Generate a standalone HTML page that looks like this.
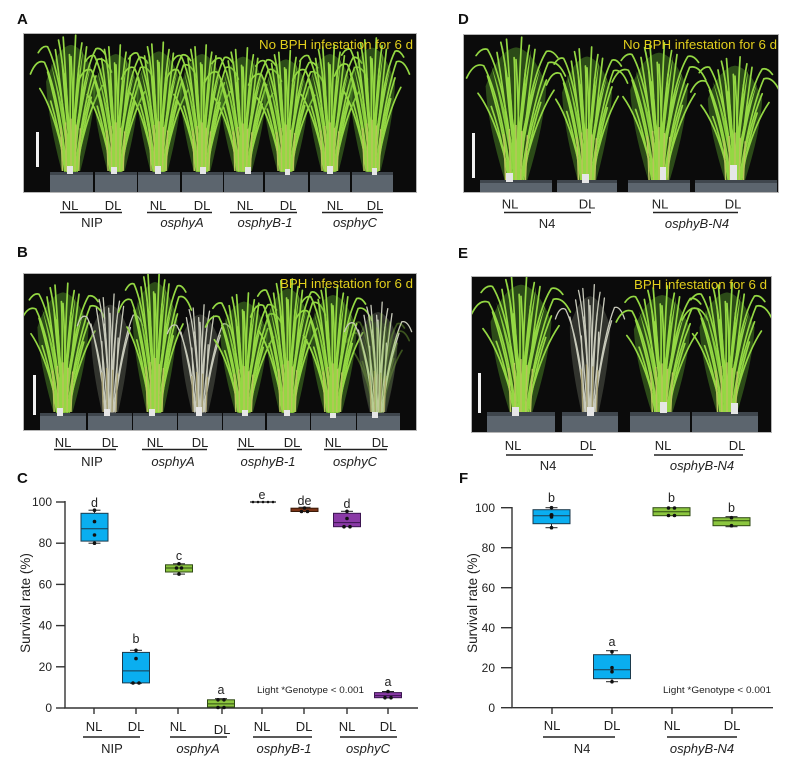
<!DOCTYPE html>
<html>
<head>
<meta charset="utf-8">
<style>
html,body{margin:0;padding:0;background:#fff;}
svg{display:block;}
text{font-family:"Liberation Sans",Arial,sans-serif;}
.b path{vector-effect:non-scaling-stroke;}
.lbl{font-size:13px;fill:#222;}
.it{font-style:italic;}
.pl{font-size:15px;font-weight:bold;fill:#111;}
.tk{font-size:12px;fill:#222;}
.yl{font-size:13.5px;fill:#222;}
.ltr{font-size:12.5px;fill:#222;}
.yel{font-size:13px;fill:#e2cf1d;}
</style>
</head>
<body>
<svg width="785" height="763" viewBox="0 0 785 763" xmlns="http://www.w3.org/2000/svg">
<defs>
  <g id="hp">
    <path d="M-12,0 Q-30,-55 -32,-92 Q-18,-128 0,-130 Q18,-128 32,-92 Q30,-55 12,0 Z" fill="#5aa52a" opacity="0.42"/>
    <path d="M-2,-20 Q-10,-80 -14,-132 Q-6,-80 3,-20Z" fill="#98dc48"/>
    <path d="M2,-20 Q10,-80 16,-128 Q6,-80 -2,-20Z" fill="#8fd440"/>
    <path d="M-4,-10 Q-14,-70 -26,-112 Q-10,-70 1,-10Z" fill="#86cc3c"/>
    <path d="M4,-10 Q14,-70 26,-110 Q10,-70 -1,-10Z" fill="#92d646"/>
    <g class="b" fill="none" stroke="#94d843" stroke-width="1.7" stroke-linecap="round">
      <path d="M-2,0 Q-4,-70 -10,-138"/>
      <path d="M1,0 Q2,-75 6,-140"/>
      <path d="M-4,0 Q-8,-60 -20,-125"/>
      <path d="M4,0 Q10,-60 20,-128"/>
      <path d="M-6,0 Q-14,-55 -30,-102"/>
      <path d="M6,0 Q14,-55 32,-98"/>
      <path d="M0,0 Q-6,-95 -16,-135"/>
      <path d="M0,0 Q6,-90 14,-132"/>
      <path d="M-3,0 Q-2,-60 -8,-100"/>
      <path d="M3,0 Q5,-60 10,-108"/>
      <path d="M-5,0 Q-16,-80 -34,-112 Q-44,-116 -52,-100"/>
      <path d="M5,0 Q18,-80 34,-115 Q44,-118 52,-102"/>
      <path d="M-1,0 Q-12,-100 -30,-128 Q-36,-130 -42,-122"/>
      <path d="M1,0 Q14,-100 32,-126 Q38,-128 44,-120"/>
      <path d="M-8,0 Q-14,-40 -26,-72"/>
      <path d="M8,0 Q14,-40 26,-76"/>
      <path d="M-2,0 Q0,-90 -2,-120"/>
      <path d="M2,0 Q4,-60 0,-118"/>
      <path d="M-6,0 Q-20,-60 -40,-85"/>
      <path d="M6,0 Q20,-60 40,-88"/>
    </g>
    <g class="b" fill="none" stroke="#b9c45c" stroke-width="1.4">
      <path d="M-11,0 L-13,-45"/><path d="M-6,0 L-7,-50"/><path d="M0,0 L0,-54"/>
      <path d="M5,0 L6,-48"/><path d="M10,0 L12,-44"/>
    </g>
  </g>
  <g id="dp">
    <path d="M-12,0 Q-28,-55 -28,-90 Q-16,-120 0,-122 Q16,-120 28,-90 Q28,-55 12,0 Z" fill="#6f7264" opacity="0.4"/>
    <g class="b" fill="none" stroke="#c8cabb" stroke-width="1.3" stroke-linecap="round">
      <path d="M-2,0 Q-4,-70 -10,-130"/>
      <path d="M1,0 Q2,-75 6,-134"/>
      <path d="M-4,0 Q-8,-60 -20,-118"/>
      <path d="M4,0 Q10,-60 20,-120"/>
      <path d="M-6,0 Q-14,-55 -28,-100"/>
      <path d="M6,0 Q14,-55 30,-96"/>
      <path d="M0,0 Q-6,-95 -16,-128"/>
      <path d="M0,0 Q6,-90 14,-126"/>
      <path d="M-3,0 Q-2,-60 -8,-100"/>
      <path d="M3,0 Q5,-60 10,-104"/>
      <path d="M-5,0 Q-16,-80 -34,-108 Q-42,-112 -48,-98"/>
      <path d="M5,0 Q18,-80 34,-110 Q42,-112 48,-98"/>
      <path d="M-2,0 Q0,-90 -2,-118"/>
      <path d="M2,0 Q4,-60 0,-112"/>
      <path d="M-8,0 Q-10,-40 -12,-80"/>
      <path d="M8,0 Q10,-40 12,-84"/>
    </g>
    <g class="b" fill="none" stroke="#a39b6e" stroke-width="1.3">
      <path d="M-10,0 L-12,-45"/><path d="M-4,0 L-5,-50"/><path d="M3,0 L4,-48"/><path d="M9,0 L11,-44"/>
    </g>
  </g>
  <clipPath id="cA"><rect x="23" y="33" width="394" height="160"/></clipPath>
  <clipPath id="cB"><rect x="23" y="273" width="394" height="158"/></clipPath>
  <clipPath id="cD"><rect x="463" y="34" width="316" height="159"/></clipPath>
  <clipPath id="cE"><rect x="471" y="276" width="301" height="157"/></clipPath>
</defs>

<!-- Panel labels -->
<text class="pl" x="17" y="24">A</text>
<text class="pl" x="17" y="257">B</text>
<text class="pl" x="17" y="483">C</text>
<text class="pl" x="458" y="24">D</text>
<text class="pl" x="458" y="258">E</text>
<text class="pl" x="459" y="483">F</text>

<!-- ===== Photo A ===== -->
<g clip-path="url(#cA)">
  <rect x="23" y="33" width="394" height="160" fill="#0b0b0b"/>
  <g>
    <use href="#hp" transform="translate(71,171) scale(0.78,0.97)"/>
    <use href="#hp" transform="translate(116,171) scale(0.72,0.9)"/>
    <use href="#hp" transform="translate(159,171) scale(0.72,0.92)"/>
    <use href="#hp" transform="translate(202,171) scale(0.7,0.9)"/>
    <use href="#hp" transform="translate(243,171) scale(0.74,0.88)"/>
    <use href="#hp" transform="translate(286,171) scale(0.72,0.86)"/>
    <use href="#hp" transform="translate(330,171) scale(0.72,0.9)"/>
    <use href="#hp" transform="translate(372,171) scale(0.72,0.95)"/>
  </g>
  <g fill="#5c656e">
    <rect x="50" y="172" width="43" height="21"/><rect x="95" y="172" width="42" height="21"/>
    <rect x="138" y="172" width="42" height="21"/><rect x="182" y="172" width="41" height="21"/>
    <rect x="224" y="172" width="39" height="21"/><rect x="265" y="172" width="43" height="21"/>
    <rect x="310" y="172" width="40" height="21"/><rect x="352" y="172" width="41" height="21"/>
  </g>
  <g fill="#3f464d">
    <rect x="50" y="172" width="43" height="3"/><rect x="95" y="172" width="42" height="3"/>
    <rect x="138" y="172" width="42" height="3"/><rect x="182" y="172" width="41" height="3"/>
    <rect x="224" y="172" width="39" height="3"/><rect x="265" y="172" width="43" height="3"/>
    <rect x="310" y="172" width="40" height="3"/><rect x="352" y="172" width="41" height="3"/>
  </g>
  <g fill="#e6e6e6">
    <rect x="67" y="166" width="6" height="8"/><rect x="111" y="167" width="6" height="7"/>
    <rect x="155" y="166" width="6" height="8"/><rect x="200" y="167" width="6" height="7"/>
    <rect x="245" y="167" width="6" height="7"/><rect x="285" y="169" width="5" height="6"/>
    <rect x="327" y="166" width="6" height="8"/><rect x="372" y="168" width="5" height="7"/>
  </g>
  <rect x="36" y="132" width="3" height="35" fill="#f2f2f2"/>
  <text class="yel" x="413" y="49" text-anchor="end" textLength="154" lengthAdjust="spacingAndGlyphs">No BPH infestation for 6 d</text>
</g>
<rect x="23.5" y="33.5" width="393" height="159" fill="none" stroke="#b5b5b5" stroke-width="1"/>

<!-- labels A -->
<g class="lbl" text-anchor="middle">
  <text x="70" y="210">NL</text><text x="113" y="210">DL</text>
  <text x="158" y="210">NL</text><text x="202" y="210">DL</text>
  <text x="245" y="210">NL</text><text x="288" y="210">DL</text>
  <text x="335" y="210">NL</text><text x="375" y="210">DL</text>
  <text x="92" y="227">NIP</text>
  <text class="it" x="182" y="227">osphyA</text>
  <text class="it" x="265" y="227">osphyB-1</text>
  <text class="it" x="355" y="227">osphyC</text>
</g>
<g stroke="#222" stroke-width="1.4">
  <line x1="60" y1="212.5" x2="122" y2="212.5"/><line x1="147" y1="212.5" x2="212" y2="212.5"/>
  <line x1="230" y1="212.5" x2="297" y2="212.5"/><line x1="322" y1="212.5" x2="383" y2="212.5"/>
</g>

<!-- ===== Photo B ===== -->
<g clip-path="url(#cB)">
  <rect x="23" y="273" width="394" height="158" fill="#0b0b0b"/>
  <use href="#hp" transform="translate(63,412) scale(0.8,0.92)"/>
  <use href="#dp" transform="translate(110,412) scale(0.68,0.88)"/>
  <use href="#hp" transform="translate(155,412) scale(0.7,1.0)"/>
  <use href="#dp" transform="translate(200,412) scale(0.68,0.8)"/>
  <use href="#hp" transform="translate(244,412) scale(0.74,0.85)"/>
  <use href="#hp" transform="translate(288,412) scale(0.72,0.95)"/>
  <use href="#hp" transform="translate(333,412) scale(0.74,0.9)"/>
  <use href="#dp" transform="translate(378,412) scale(0.7,0.82)"/>
  <use href="#hp" transform="translate(378,412) scale(0.6,0.7)" opacity="0.35"/>
  <g fill="#5c656e">
    <rect x="40" y="413" width="46" height="18"/><rect x="88" y="413" width="44" height="18"/>
    <rect x="133" y="413" width="44" height="18"/><rect x="178" y="413" width="44" height="18"/>
    <rect x="223" y="413" width="42" height="18"/><rect x="267" y="413" width="43" height="18"/>
    <rect x="311" y="413" width="45" height="18"/><rect x="357" y="413" width="43" height="18"/>
  </g>
  <g fill="#3f464d">
    <rect x="40" y="413" width="46" height="3"/><rect x="88" y="413" width="44" height="3"/>
    <rect x="133" y="413" width="44" height="3"/><rect x="178" y="413" width="44" height="3"/>
    <rect x="223" y="413" width="42" height="3"/><rect x="267" y="413" width="43" height="3"/>
    <rect x="311" y="413" width="45" height="3"/><rect x="357" y="413" width="43" height="3"/>
  </g>
  <g fill="#e6e6e6">
    <rect x="57" y="408" width="6" height="8"/><rect x="104" y="409" width="6" height="7"/>
    <rect x="149" y="409" width="6" height="7"/><rect x="196" y="407" width="6" height="9"/>
    <rect x="242" y="410" width="6" height="6"/><rect x="284" y="410" width="6" height="6"/>
    <rect x="330" y="413" width="6" height="5"/><rect x="372" y="412" width="6" height="6"/>
  </g>
  <rect x="33" y="375" width="3" height="40" fill="#f2f2f2"/>
  <text class="yel" x="413" y="288" text-anchor="end" textLength="133" lengthAdjust="spacingAndGlyphs">BPH infestation for 6 d</text>
</g>
<rect x="23.5" y="273.5" width="393" height="157" fill="none" stroke="#b5b5b5" stroke-width="1"/>

<g class="lbl" text-anchor="middle">
  <text x="63" y="447">NL</text><text x="110" y="447">DL</text>
  <text x="155" y="447">NL</text><text x="200" y="447">DL</text>
  <text x="246" y="447">NL</text><text x="292" y="447">DL</text>
  <text x="333" y="447">NL</text><text x="380" y="447">DL</text>
  <text x="92" y="466">NIP</text>
  <text class="it" x="173" y="466">osphyA</text>
  <text class="it" x="268" y="466">osphyB-1</text>
  <text class="it" x="355" y="466">osphyC</text>
</g>
<g stroke="#222" stroke-width="1.4">
  <line x1="54" y1="449.5" x2="116" y2="449.5"/><line x1="142" y1="449.5" x2="207" y2="449.5"/>
  <line x1="237" y1="449.5" x2="302" y2="449.5"/><line x1="324" y1="449.5" x2="387" y2="449.5"/>
</g>

<!-- ===== Photo D ===== -->
<g clip-path="url(#cD)">
  <rect x="463" y="34" width="316" height="159" fill="#0b0b0b"/>
  <use href="#hp" transform="translate(516,180) scale(0.95,1.02)"/>
  <use href="#hp" transform="translate(587,180) scale(0.78,0.95)"/>
  <use href="#hp" transform="translate(659,180) scale(0.9,0.98)"/>
  <use href="#hp" transform="translate(735,180) scale(0.85,0.88)"/>
  <g fill="#5c656e">
    <rect x="480" y="180" width="72" height="13"/><rect x="557" y="180" width="60" height="13"/>
    <rect x="628" y="180" width="62" height="13"/><rect x="695" y="180" width="82" height="13"/>
  </g>
  <g fill="#3f464d">
    <rect x="480" y="180" width="72" height="3"/><rect x="557" y="180" width="60" height="3"/>
    <rect x="628" y="180" width="62" height="3"/><rect x="695" y="180" width="82" height="3"/>
  </g>
  <g fill="#e6e6e6">
    <rect x="506" y="173" width="7" height="9"/><rect x="582" y="174" width="7" height="9"/>
    <rect x="660" y="167" width="6" height="13"/><rect x="730" y="165" width="7" height="15"/>
  </g>
  <rect x="472" y="133" width="3" height="45" fill="#f2f2f2"/>
  <text class="yel" x="777" y="49" text-anchor="end" textLength="154" lengthAdjust="spacingAndGlyphs">No BPH infestation for 6 d</text>
</g>
<rect x="463.5" y="34.5" width="315" height="158" fill="none" stroke="#b5b5b5" stroke-width="1"/>

<g class="lbl" text-anchor="middle">
  <text x="510" y="208.5">NL</text><text x="587" y="208.5">DL</text>
  <text x="660" y="208.5">NL</text><text x="733" y="208.5">DL</text>
  <text x="547" y="228">N4</text>
  <text class="it" x="697" y="228">osphyB-N4</text>
</g>
<g stroke="#222" stroke-width="1.4">
  <line x1="504" y1="212.5" x2="591" y2="212.5"/><line x1="653" y1="212.5" x2="738" y2="212.5"/>
</g>

<!-- ===== Photo E ===== -->
<g clip-path="url(#cE)">
  <rect x="471" y="276" width="301" height="157" fill="#0b0b0b"/>
  <use href="#hp" transform="translate(521,412) scale(0.95,0.98)"/>
  <use href="#dp" transform="translate(590,412) scale(0.72,0.95)"/>
  <use href="#hp" transform="translate(662,412) scale(0.88,0.9)"/>
  <use href="#hp" transform="translate(727,412) scale(0.86,0.92)"/>
  <g fill="#5c656e">
    <rect x="487" y="412" width="68" height="21"/><rect x="562" y="412" width="56" height="21"/>
    <rect x="630" y="412" width="60" height="21"/><rect x="692" y="412" width="66" height="21"/>
  </g>
  <g fill="#3f464d">
    <rect x="487" y="412" width="68" height="4"/><rect x="562" y="412" width="56" height="4"/>
    <rect x="630" y="412" width="60" height="4"/><rect x="692" y="412" width="66" height="4"/>
  </g>
  <g fill="#e6e6e6">
    <rect x="512" y="407" width="7" height="9"/><rect x="587" y="407" width="7" height="9"/>
    <rect x="660" y="402" width="7" height="11"/><rect x="731" y="403" width="7" height="11"/>
  </g>
  <rect x="478" y="373" width="3" height="40" fill="#f2f2f2"/>
  <text class="yel" x="767" y="289" text-anchor="end" textLength="133" lengthAdjust="spacingAndGlyphs">BPH infestation for 6 d</text>
</g>
<rect x="471.5" y="276.5" width="300" height="156" fill="none" stroke="#b5b5b5" stroke-width="1"/>

<g class="lbl" text-anchor="middle">
  <text x="513" y="450">NL</text><text x="588" y="450">DL</text>
  <text x="663" y="450">NL</text><text x="737" y="450">DL</text>
  <text x="548" y="470">N4</text>
  <text class="it" x="702" y="470">osphyB-N4</text>
</g>
<g stroke="#222" stroke-width="1.4">
  <line x1="506" y1="455" x2="593" y2="455"/><line x1="654" y1="455" x2="743" y2="455"/>
</g>

<!-- ===== Chart C ===== -->
<g stroke="#333" stroke-width="1.4" fill="none">
  <line x1="65" y1="501" x2="65" y2="708"/>
  <line x1="64.3" y1="708" x2="418" y2="708"/>
  <line x1="56" y1="502" x2="65" y2="502"/>
  <line x1="56" y1="543.2" x2="65" y2="543.2"/>
  <line x1="56" y1="584.4" x2="65" y2="584.4"/>
  <line x1="56" y1="625.6" x2="65" y2="625.6"/>
  <line x1="56" y1="666.8" x2="65" y2="666.8"/>
  <line x1="56" y1="708" x2="65" y2="708"/>
  <line x1="94" y1="708" x2="94" y2="714"/><line x1="136" y1="708" x2="136" y2="714"/>
  <line x1="178" y1="708" x2="178" y2="714"/><line x1="222" y1="708" x2="222" y2="714"/>
  <line x1="262" y1="708" x2="262" y2="714"/><line x1="304" y1="708" x2="304" y2="714"/>
  <line x1="347" y1="708" x2="347" y2="714"/><line x1="388" y1="708" x2="388" y2="714"/>
</g>
<g class="tk" text-anchor="end">
  <text x="52" y="506">100</text><text x="52" y="547.2">80</text><text x="52" y="588.4">60</text>
  <text x="52" y="629.6">40</text><text x="52" y="670.8">20</text><text x="52" y="712">0</text>
</g>
<text class="yl" transform="translate(30,603) rotate(-90)" text-anchor="middle">Survival rate (%)</text>

<!-- boxes C -->
<g stroke="#222" stroke-width="1">
  <line x1="94.5" y1="510.2" x2="94.5" y2="543.2"/>
  <line x1="88.5" y1="510.2" x2="100.5" y2="510.2"/><line x1="88.5" y1="543.2" x2="100.5" y2="543.2"/>
  <rect x="81" y="513.3" width="27" height="27.8" fill="#0aaef0" stroke="#1c3a4c"/>
  <line x1="81" y1="528.8" x2="108" y2="528.8" stroke="#1c3a4c"/>
  <line x1="136" y1="650.3" x2="136" y2="683.3"/>
  <line x1="130" y1="650.3" x2="142" y2="650.3"/><line x1="130" y1="683.3" x2="142" y2="683.3"/>
  <rect x="122.5" y="652.4" width="27" height="30.5" fill="#0aaef0" stroke="#1c3a4c"/>
  <line x1="122.5" y1="670.9" x2="149.5" y2="670.9" stroke="#1c3a4c"/>
  <line x1="179" y1="563.8" x2="179" y2="574.1"/>
  <line x1="173" y1="563.8" x2="185" y2="563.8"/><line x1="173" y1="574.1" x2="185" y2="574.1"/>
  <rect x="165.5" y="564.8" width="27" height="7.2" fill="#8cc63f" stroke="#2f4a14"/>
  <line x1="165.5" y1="568" x2="192.5" y2="568" stroke="#2f4a14"/>
  <line x1="221" y1="698.7" x2="221" y2="708"/>
  <line x1="215" y1="698.7" x2="227" y2="698.7"/>
  <rect x="207.5" y="699.8" width="27" height="7.2" fill="#8cc63f" stroke="#2f4a14"/>
  <line x1="207.5" y1="703.9" x2="234.5" y2="703.9" stroke="#2f4a14"/>
  <line x1="250" y1="502" x2="276" y2="502" stroke-width="1.3"/>
  <line x1="304.5" y1="507.3" x2="304.5" y2="512.3"/>
  <line x1="298.5" y1="507.3" x2="310.5" y2="507.3"/>
  <rect x="291" y="508.2" width="27" height="3.3" fill="#7a3416" stroke="#3a1a08"/>
  <line x1="347" y1="511.3" x2="347" y2="526.7"/>
  <line x1="341" y1="511.3" x2="353" y2="511.3"/>
  <rect x="333.5" y="513.3" width="27" height="13.4" fill="#8a3aa6" stroke="#3b1550"/>
  <line x1="333.5" y1="522.6" x2="360.5" y2="522.6" stroke="#3b1550"/>
  <line x1="388" y1="691.5" x2="388" y2="698.7"/>
  <line x1="382" y1="691.5" x2="394" y2="691.5"/>
  <rect x="374.5" y="692.6" width="27" height="5.1" fill="#8a3aa6" stroke="#3b1550"/>
  <line x1="374.5" y1="695.6" x2="401.5" y2="695.6" stroke="#3b1550"/>
</g>
<g fill="#111">
  <circle cx="94.5" cy="510.2" r="1.8"/><circle cx="94.5" cy="521.6" r="1.8"/><circle cx="94.5" cy="535" r="1.8"/><circle cx="94.5" cy="543.2" r="1.8"/>
  <circle cx="136" cy="650.3" r="1.8"/><circle cx="136" cy="658.6" r="1.8"/><circle cx="133" cy="683" r="1.8"/><circle cx="139" cy="683" r="1.8"/>
  <circle cx="179" cy="563.8" r="1.8"/><circle cx="176.5" cy="568" r="1.8"/><circle cx="181.5" cy="568" r="1.8"/><circle cx="179" cy="574.1" r="1.8"/>
  <circle cx="218" cy="699.8" r="1.8"/><circle cx="224" cy="699.8" r="1.8"/><circle cx="218" cy="707.5" r="1.8"/><circle cx="224" cy="707.5" r="1.8"/>
  <circle cx="253" cy="502" r="1.3"/><circle cx="258" cy="502" r="1.3"/><circle cx="263" cy="502" r="1.3"/><circle cx="268" cy="502" r="1.3"/><circle cx="273" cy="502" r="1.3"/>
  <circle cx="304.5" cy="508" r="1.8"/><circle cx="301.5" cy="511.5" r="1.8"/><circle cx="307.5" cy="511.5" r="1.8"/>
  <circle cx="347" cy="511.3" r="1.8"/><circle cx="347" cy="518.5" r="1.8"/><circle cx="344" cy="526.7" r="1.8"/><circle cx="350" cy="526.7" r="1.8"/>
  <circle cx="388" cy="691.5" r="1.8"/><circle cx="385" cy="697.7" r="1.8"/><circle cx="391" cy="697.7" r="1.8"/>
</g>
<g class="ltr" text-anchor="middle">
  <text x="94.5" y="507">d</text><text x="136" y="643">b</text><text x="179" y="560">c</text>
  <text x="221" y="694">a</text><text x="262" y="499">e</text><text x="304.5" y="505">de</text>
  <text x="347" y="508">d</text><text x="388" y="686">a</text>
</g>
<text x="257" y="693" style="font-size:9px;fill:#222" textLength="107" lengthAdjust="spacingAndGlyphs">Light *Genotype &lt; 0.001</text>

<g class="lbl" text-anchor="middle">
  <text x="94" y="731">NL</text><text x="136" y="731">DL</text>
  <text x="178" y="731">NL</text><text x="222" y="734">DL</text>
  <text x="262" y="731">NL</text><text x="304" y="731">DL</text>
  <text x="347" y="731">NL</text><text x="388" y="731">DL</text>
  <text x="112" y="753">NIP</text>
  <text class="it" x="198" y="753">osphyA</text>
  <text class="it" x="284" y="753">osphyB-1</text>
  <text class="it" x="368" y="753">osphyC</text>
</g>
<g stroke="#222" stroke-width="1.4">
  <line x1="83" y1="737" x2="140" y2="737"/><line x1="170" y1="737" x2="227" y2="737"/>
  <line x1="253" y1="737" x2="312" y2="737"/><line x1="340" y1="737" x2="397" y2="737"/>
</g>

<!-- ===== Chart F ===== -->
<g stroke="#333" stroke-width="1.4" fill="none">
  <line x1="512" y1="507" x2="512" y2="707.7"/>
  <line x1="511.3" y1="707.7" x2="773" y2="707.7"/>
  <line x1="501" y1="507.7" x2="512" y2="507.7"/>
  <line x1="501" y1="547.7" x2="512" y2="547.7"/>
  <line x1="501" y1="587.7" x2="512" y2="587.7"/>
  <line x1="501" y1="627.7" x2="512" y2="627.7"/>
  <line x1="501" y1="667.7" x2="512" y2="667.7"/>
  <line x1="501" y1="707.7" x2="512" y2="707.7"/>
  <line x1="552" y1="707.7" x2="552" y2="714"/><line x1="612" y1="707.7" x2="612" y2="714"/>
  <line x1="672" y1="707.7" x2="672" y2="714"/><line x1="732" y1="707.7" x2="732" y2="714"/>
</g>
<g class="tk" text-anchor="end">
  <text x="495" y="512">100</text><text x="495" y="552">80</text><text x="495" y="592">60</text>
  <text x="495" y="632">40</text><text x="495" y="672">20</text><text x="495" y="712">0</text>
</g>
<text class="yl" transform="translate(477,603) rotate(-90)" text-anchor="middle">Survival rate (%)</text>

<g stroke="#222" stroke-width="1">
  <line x1="551.5" y1="507.7" x2="551.5" y2="527.7"/>
  <line x1="545.5" y1="507.7" x2="557.5" y2="507.7"/><line x1="545.5" y1="527.7" x2="557.5" y2="527.7"/>
  <rect x="533" y="509.7" width="37" height="14" fill="#0aaef0" stroke="#1c3a4c"/>
  <line x1="533" y1="515.7" x2="570" y2="515.7" stroke="#1c3a4c"/>
  <line x1="612" y1="650.7" x2="612" y2="681.7"/>
  <line x1="606" y1="650.7" x2="618" y2="650.7"/><line x1="606" y1="681.7" x2="618" y2="681.7"/>
  <rect x="593.5" y="654.7" width="37" height="24" fill="#0aaef0" stroke="#1c3a4c"/>
  <line x1="593.5" y1="669.7" x2="630.5" y2="669.7" stroke="#1c3a4c"/>
  <rect x="653" y="507.7" width="37" height="8" fill="#8cc63f" stroke="#2f4a14"/>
  <line x1="653" y1="511.7" x2="690" y2="511.7" stroke="#2f4a14"/>
  <line x1="731.5" y1="516.7" x2="731.5" y2="526.7"/>
  <line x1="725.5" y1="516.7" x2="737.5" y2="516.7"/><line x1="725.5" y1="526.7" x2="737.5" y2="526.7"/>
  <rect x="713" y="517.7" width="37" height="8" fill="#8cc63f" stroke="#2f4a14"/>
  <line x1="713" y1="520.7" x2="750" y2="520.7" stroke="#2f4a14"/>
</g>
<g fill="#111">
  <circle cx="551.5" cy="507.7" r="1.8"/><circle cx="551.5" cy="515" r="2"/><circle cx="551.5" cy="517" r="1.8"/><circle cx="551.5" cy="527.7" r="1.8"/>
  <circle cx="612" cy="651.7" r="1.8"/><circle cx="612" cy="667.7" r="1.8"/><circle cx="612" cy="671.7" r="1.8"/><circle cx="612" cy="681.7" r="1.8"/>
  <circle cx="668.5" cy="508" r="1.8"/><circle cx="674.5" cy="508" r="1.8"/><circle cx="668.5" cy="515.5" r="1.8"/><circle cx="674.5" cy="515.5" r="1.8"/>
  <circle cx="731.5" cy="517.7" r="1.8"/><circle cx="731.5" cy="525.7" r="1.8"/>
</g>
<g class="ltr" text-anchor="middle">
  <text x="551.5" y="502">b</text><text x="612" y="646">a</text>
  <text x="671.5" y="502">b</text><text x="731.5" y="512">b</text>
</g>
<text x="663" y="693" style="font-size:9px;fill:#222" textLength="108" lengthAdjust="spacingAndGlyphs">Light *Genotype &lt; 0.001</text>

<g class="lbl" text-anchor="middle">
  <text x="552" y="730">NL</text><text x="612" y="730">DL</text>
  <text x="672" y="730">NL</text><text x="732" y="730">DL</text>
  <text x="582" y="753">N4</text>
  <text class="it" x="702" y="753">osphyB-N4</text>
</g>
<g stroke="#222" stroke-width="1.4">
  <line x1="543" y1="737" x2="615" y2="737"/><line x1="667" y1="737" x2="737" y2="737"/>
</g>
</svg>
</body>
</html>
